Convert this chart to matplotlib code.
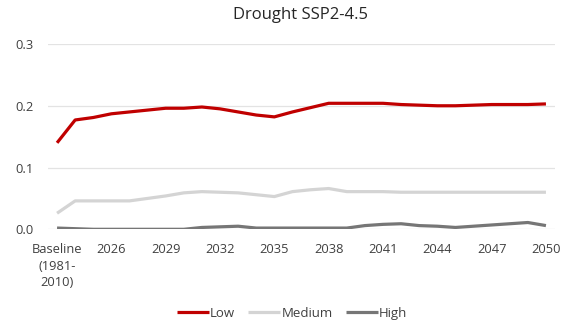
import matplotlib.pyplot as plt
import numpy as np

# ── Data ──────────────────────────────────────────────────────────────
categories = ['Baseline\n(1981-\n2010)'] + [str(y) for y in range(2024, 2051)]

low = [0.140, 0.177, 0.181, 0.187, 0.190, 0.193, 0.196, 0.196, 0.198, 0.195,
       0.190, 0.185, 0.182, 0.190, 0.197, 0.204, 0.204, 0.204, 0.204, 0.202,
       0.201, 0.200, 0.200, 0.201, 0.202, 0.202, 0.202, 0.203]
medium = [0.026, 0.046, 0.046, 0.046, 0.046, 0.050, 0.054, 0.059, 0.061, 0.060,
          0.059, 0.056, 0.053, 0.061, 0.064, 0.066, 0.061, 0.061, 0.061, 0.060,
          0.060, 0.060, 0.060, 0.060, 0.060, 0.060, 0.060, 0.060]
high = [0.002, 0.001, 0.000, 0.000, 0.000, 0.000, 0.000, 0.000, 0.003, 0.004,
        0.005, 0.002, 0.002, 0.002, 0.002, 0.002, 0.002, 0.006, 0.008, 0.009,
        0.006, 0.005, 0.003, 0.005, 0.007, 0.009, 0.011, 0.006]

series = [('Low', low, '#C00000'),
          ('Medium', medium, '#D4D4D4'),
          ('High', high, '#767676')]

# ── Plot ──────────────────────────────────────────────────────────────
plt.rcParams['font.family'] = ['Open Sans', 'DejaVu Sans']
fig = plt.figure(figsize=(5.62, 3.28), dpi=100)
fig.patch.set_facecolor('white')
ax = fig.add_axes([48 / 562, 1 - 229.3 / 328, (555 - 48) / 562, (229.3 - 44) / 328])

x = np.arange(len(categories))
for name, vals, col in series:
    ax.plot(x, vals, color=col, linewidth=2.3, label=name, solid_capstyle='butt')

ax.set_xlim(-0.5, len(categories) - 0.5)
ax.set_ylim(0, 0.3)
ax.set_yticks([0, 0.1, 0.2, 0.3])
ax.set_yticklabels(['0.0', '0.1', '0.2', '0.3'])
ax.set_xticks(x[::3])
ax.set_xticklabels(categories[::3], linespacing=1.35)
ax.tick_params(axis='both', length=0, labelsize=9.3, colors='#404040')
ax.tick_params(axis='y', pad=10)
ax.tick_params(axis='x', pad=10)

for s in ax.spines.values():
    s.set_visible(False)
ax.yaxis.grid(True, color='#E3E3E3', linewidth=0.9)
ax.set_axisbelow(True)

fig.text(0.534, 0.955, 'Drought SSP2-4.5', ha='center', va='center',
         fontsize=12, color='#262626')

fig.legend(loc='center', bbox_to_anchor=(0.52, 0.045), ncol=3, frameon=False,
           fontsize=9.5, handlelength=2.4, handletextpad=0.1, columnspacing=1.0,
           labelcolor='#404040')

plt.savefig('out.png', dpi=100, facecolor='white')
